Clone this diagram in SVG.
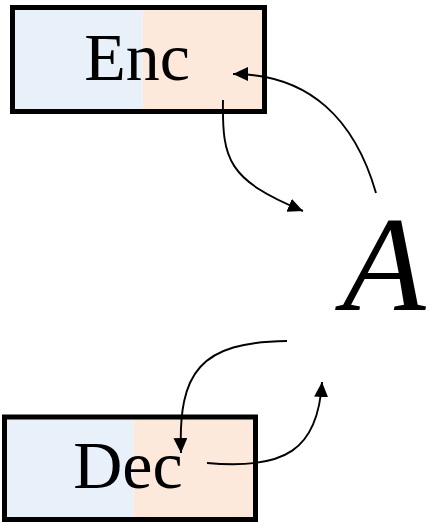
<svg xmlns="http://www.w3.org/2000/svg" width="428" height="522" viewBox="0 0 428 522">
<style>
.lbl{font-family:"Liberation Serif","DejaVu Serif",serif;font-size:68px;fill:#000;text-anchor:middle}
.box{fill:none;stroke:#000;stroke-width:5}
.blue{fill:#E8F0FA}
.orange{fill:#FDE9DB}
.conn{fill:none;stroke:#000;stroke-width:1.9}
</style>
<defs>
<marker id="ah" markerUnits="userSpaceOnUse" markerWidth="16" markerHeight="14" refX="15" refY="7" orient="auto">
<path d="M0,0 L15,7 L0,14 Z" fill="#000"/>
</marker>
</defs>
<g id="enc">
<rect class="blue" x="12.5" y="7.5" width="130" height="104"/>
<rect class="orange" x="142.5" y="7.5" width="122" height="104"/>
<rect class="box" x="12.5" y="7.5" width="252" height="104"/>
<text class="lbl" x="137" y="80">Enc</text>
</g>
<g id="dec">
<rect class="blue" x="4.5" y="417" width="129" height="102.5"/>
<rect class="orange" x="133.5" y="417" width="122" height="102.5"/>
<rect class="box" x="4.5" y="417" width="251" height="102.5"/>
<text class="lbl" x="128" y="488">Dec</text>
</g>
<g id="A">
<text x="384" y="310" style="font-family:'Liberation Serif','DejaVu Serif',serif;font-style:italic;font-size:136px;text-anchor:middle;fill:#000">A</text>
</g>
<g id="connectors">
<path class="conn" d="M376,193 C 355,120 310,74 233,74" marker-end="url(#ah)"/>
<path class="conn" d="M223,100 C 222,160 228,180 303,211" marker-end="url(#ah)"/>
<path class="conn" d="M287,341 C 200,342 178,372 181,453" marker-end="url(#ah)"/>
<path class="conn" d="M207,463 C 285,470 318,450 322,382" marker-end="url(#ah)"/>
</g>
</svg>
